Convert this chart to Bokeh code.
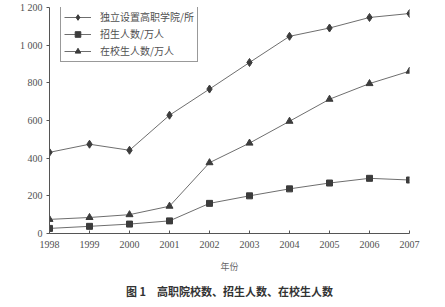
from bokeh.plotting import figure
from bokeh.models import Range1d, FixedTicker, Legend, LegendItem, Title
from bokeh.embed import file_html
from bokeh.resources import INLINE

years = [1998, 1999, 2000, 2001, 2002, 2003, 2004, 2005, 2006, 2007]
colleges = [431, 474, 442, 628, 767, 908, 1047, 1091, 1147, 1168]
enroll = [27, 38, 50, 67, 160, 200, 237, 268, 293, 284]
students = [75, 85, 100, 145, 376, 480, 596, 713, 796, 862]
y_ticks = [0, 200, 400, 600, 800, 1000, 1200]
y_tick_labels = ["0", "200", "400", "600", "800", "1 000", "1 200"]
names = ["独立设置高职学院/所", "招生人数/万人", "在校生人数/万人"]
x_title = "年份"
caption = "图 1\u2003高职院校数、招生人数、在校生人数"

p = figure(width=445, height=307, output_backend="svg", toolbar_location=None,
           x_range=Range1d(1998, 2007), y_range=Range1d(0, 1200),
           min_border_left=49, min_border_right=36, min_border_top=7, min_border_bottom=74)
p.outline_line_color = None
p.xgrid.visible = False
p.ygrid.visible = False
p.background_fill_color = "white"
p.border_fill_color = "white"

serif = "Liberation Serif"
cjk = "Noto Sans CJK SC"
axis_col = "#555555"
text_col = "#505050"

p.xaxis.ticker = FixedTicker(ticks=years)
p.yaxis.ticker = FixedTicker(ticks=y_ticks)
p.yaxis.major_label_overrides = {t: l for t, l in zip(y_ticks, y_tick_labels)}
for ax in (p.xaxis[0], p.yaxis[0]):
    ax.axis_line_color = axis_col
    ax.major_tick_line_color = axis_col
    ax.minor_tick_line_color = None
    ax.major_label_text_font = serif
    ax.major_label_text_font_size = "10px"
    ax.major_label_text_color = text_col
p.xaxis.major_tick_in = 3
p.xaxis.major_tick_out = 0
p.yaxis.major_tick_in = 0
p.yaxis.major_tick_out = 3
p.xaxis.major_label_standoff = 7
p.yaxis.major_label_standoff = 4
p.xaxis.axis_label = x_title
p.xaxis.axis_label_text_font = cjk
p.xaxis.axis_label_text_font_size = "9px"
p.xaxis.axis_label_text_font_style = "normal"
p.xaxis.axis_label_text_color = "#666666"
p.xaxis.axis_label_standoff = 9

line_col = "#6e6e6e"
mk_col = "#3c3c3c"
items = []
series = [(colleges, "diamond", 8), (enroll, "square", 6), (students, "triangle", 7)]
for (vals, mk, sz), nm in zip(series, names):
    r1 = p.line(years, vals, line_color=line_col, line_width=1)
    r2 = p.scatter(years, vals, marker=mk, size=sz, fill_color=mk_col, line_color=mk_col)
    items.append(LegendItem(label=nm, renderers=[r1, r2]))

legend = Legend(items=items, location=(11, 171))
legend.border_line_color = "#333333"
legend.border_line_width = 1
legend.background_fill_color = "white"
legend.label_text_font = cjk
legend.label_text_font_size = "10px"
legend.label_text_color = text_col
legend.glyph_width = 27
legend.glyph_height = 14
legend.label_height = 14
legend.spacing = 2
legend.padding = 3
legend.margin = 0
legend.label_standoff = 9
p.add_layout(legend, "center")

t = Title(text=caption, align="center", text_font=cjk, text_font_size="11px",
          text_font_style="bold", text_color="#333333", standoff=10)
p.add_layout(t, "below")

open("out.html", "w").write(file_html(p, INLINE))
